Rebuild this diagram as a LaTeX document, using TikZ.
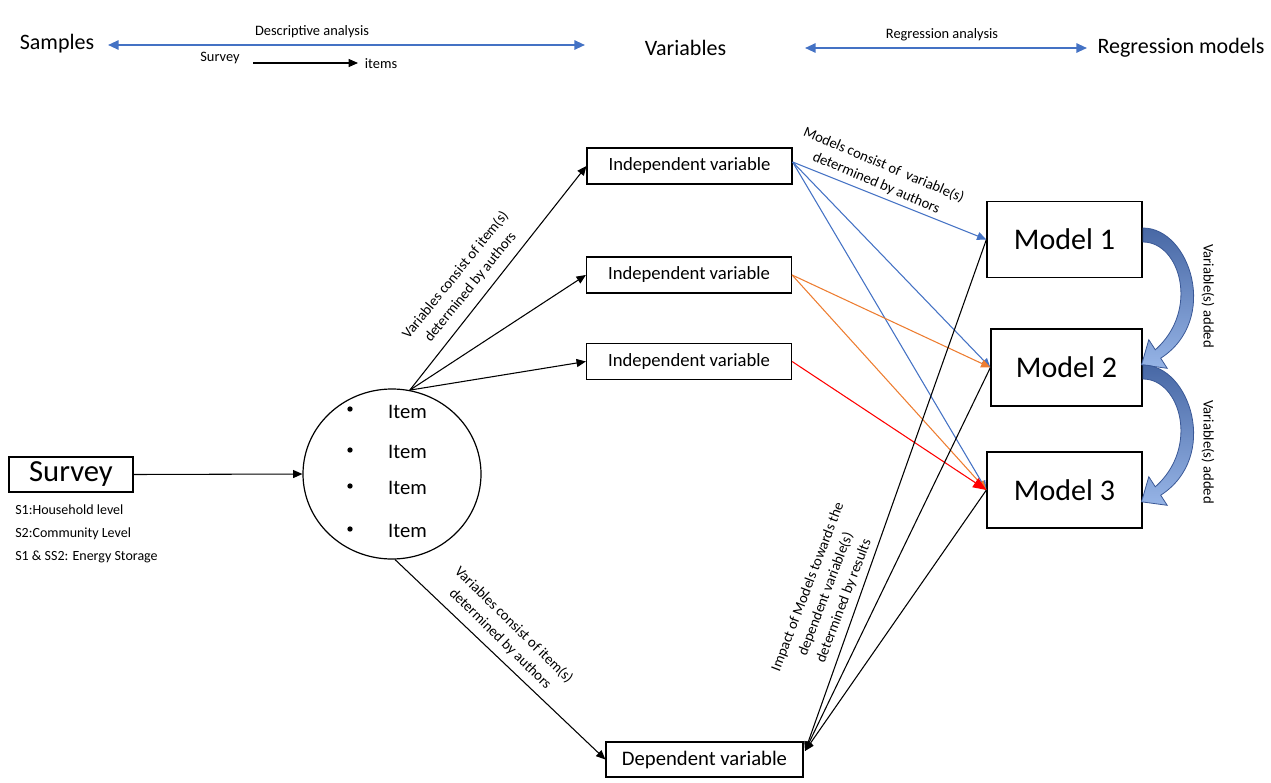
\documentclass[tikz,border=0pt]{standalone}
\usepackage{fontspec}
\setmainfont{Carlito}
\usetikzlibrary{arrows.meta,shapes.geometric}

\definecolor{ofblue}{RGB}{68,114,196}
\definecolor{oforange}{RGB}{237,125,49}
\definecolor{ofred}{RGB}{255,0,0}
\definecolor{bendtop}{RGB}{72,104,165}
\definecolor{bendbottom}{RGB}{150,180,230}
\definecolor{bendedge}{RGB}{58,88,150}

\begin{document}
\begin{tikzpicture}[x=0.75pt,y=-0.75pt,
  box/.style={draw, line width=0.9pt, inner sep=0pt},
  ivbox/.style={box, minimum width=205*0.75pt, minimum height=36*0.75pt, font=\fontsize{14}{17}\selectfont},
  modelbox/.style={box, minimum width=155*0.75pt, minimum height=76*0.75pt, font=\fontsize{22.5}{27}\selectfont},
  head/.style={font=\fontsize{16.5}{19}\selectfont, inner sep=0pt},
  small/.style={font=\fontsize{10.8}{13}\selectfont, inner sep=0pt},
  survnote/.style={font=\fontsize{10.5}{13}\selectfont, inner sep=0pt, anchor=west},
  itemtxt/.style={font=\fontsize{15.5}{18}\selectfont, inner sep=0pt},
  note/.style={font=\fontsize{11}{14.5}\selectfont, align=center, inner sep=0pt},
  conn/.style={line width=0.8pt, -{Triangle[length=7pt,width=6pt]}},
  toparrow/.style={draw=ofblue, line width=1.4pt, {Triangle[length=8pt,width=7pt]}-{Triangle[length=8pt,width=7pt]}},
  blueconn/.style={conn, draw=ofblue},
  orangeconn/.style={conn, draw=oforange},
  redconn/.style={line width=0.8pt, draw=ofred, -{Triangle[length=10pt,width=8pt]}},
  bendarrow/.style={top color=bendtop, bottom color=bendbottom, draw=bendedge, line width=0.6pt}
]
\useasboundingbox (0,0) rectangle (1271,782);

% header row
\node[head] (samples) at (57,44) {Samples};
\node[head] (variables) at (685.5,48) {Variables};
\node[head] (regmodels) at (1181,48) {Regression models};
\node[small] (descr) at (312,32) {Descriptive analysis};
\node[small] (regr) at (942,35) {Regression analysis};
\node[small] (svsmall) at (220,58) {Survey};
\node[small] (itsmall) at (381,64) {items};
\coordinate (da) at (108,45);
\coordinate (db) at (585,45);
\coordinate (ra) at (805,48);
\coordinate (rb) at (1087,48);
\coordinate (sa) at (253,63);
\coordinate (sb) at (358,63);
\draw[toparrow] (da) -- (db);
\draw[toparrow] (ra) -- (rb);
\draw[conn] (sa) -- (sb);

% survey and its samples
\node[box, minimum width=124*0.75pt, minimum height=35*0.75pt, font=\fontsize{23}{27}\selectfont] (survey) at (71,474.5) {Survey};
\node[survnote] (s1) at (15,510) {S1:Household level};
\node[survnote] (s2) at (15,534) {S2:Community Level};
\node[survnote] (s3) at (15,557) {S1 \& SS2: Energy Storage};

% items
\node[draw, ellipse, line width=0.9pt, minimum width=178*0.75pt, minimum height=170*0.75pt, inner sep=0pt] (items) at (392,474) {};
\node[itemtxt] (it1) at (407.5,412) {Item};
\node[itemtxt] (it2) at (407.5,452) {Item};
\node[itemtxt] (it3) at (407.5,488) {Item};
\node[itemtxt] (it4) at (407.5,531) {Item};
\fill (350,409) circle[radius=2pt];
\fill (350,450) circle[radius=2pt];
\fill (350,486) circle[radius=2pt];
\fill (350,529) circle[radius=2pt];

% variables
\node[ivbox] (iv1) at (689.5,166) {Independent variable};
\node[ivbox] (iv2) at (689,275) {Independent variable};
\node[ivbox] (iv3) at (689,361.5) {Independent variable};
\node[box, minimum width=197*0.75pt, minimum height=35*0.75pt, font=\fontsize{15.5}{18}\selectfont] (dep) at (704.5,759.5) {Dependent variable};

% models
\node[modelbox] (m1) at (1064.5,239.5) {Model 1};
\node[modelbox, minimum width=151*0.75pt, minimum height=77*0.75pt] (m2) at (1066.5,367.5) {Model 2};
\node[modelbox] (m3) at (1064.5,490) {Model 3};

% survey to items to variables
\draw[conn] (survey.east) -- (items.west);
\draw[conn] (items.78) -- (iv1.west);
\draw[conn] (items.78) -- (iv2.west);
\draw[conn] (items.78) -- (iv3.west);
\draw[conn] (items.-88) -- (dep.west);

% variables to models
\draw[blueconn] ([yshift=3pt]iv1.east) -- (m1.west);
\draw[blueconn] ([yshift=3pt]iv1.east) -- (m2.west);
\draw[blueconn] ([yshift=3pt]iv1.east) -- (m3.west);
\draw[orangeconn] (iv2.east) -- (m2.west);
\draw[orangeconn] (iv2.east) -- (m3.west);
\draw[redconn] (iv3.east) -- (m3.west);

% models to dependent variable
\coordinate (depin) at (805,751);
\draw[conn] (m1.west) -- (depin);
\draw[conn] (m2.west) -- (depin);
\draw[conn] (m3.west) -- (depin);

% connector labels
\node[note, rotate=51] (lab1) at (463,281) {Variables consist of item(s)\\determined by authors};
\node[note, rotate=-44.5] (lab2) at (507,632) {Variables consist of item(s)\\determined by authors};
\node[note, rotate=-23] (lab3) at (880,174) {Models consist of \ variable(s)\\determined by authors};
\node[note, rotate=69] (lab4) at (826,594) {Impact of Models towards the\\dependent variable(s)\\determined by results};

% curved block arrows between models
\foreach \dy in {0,137} {
  \begin{scope}[shift={(0,\dy)}]
    \path[bendarrow] (1143,228) .. controls (1190,228) and (1220,320) .. (1160.7,358.2)
      -- (1167.2,368.3) -- (1141.5,364.8) -- (1148.8,339.7) -- (1155.3,349.8)
      .. controls (1200,310) and (1180,242) .. (1143,242) -- cycle;
  \end{scope}
}
\node[note, rotate=-90] (add1) at (1208,296) {Variable(s) added};
\node[note, rotate=-90] (add2) at (1208,452) {Variable(s) added};
\end{tikzpicture}
\end{document}
